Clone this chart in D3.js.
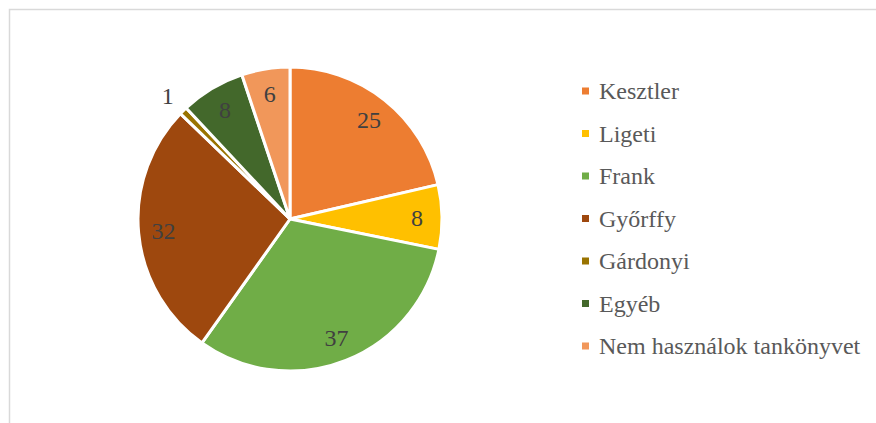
<!DOCTYPE html>
<html>
<head>
<meta charset="utf-8">
<script src="https://cdn.jsdelivr.net/npm/d3@7"></script>
<style>
  body { margin: 0; background: #fff; }
  svg { display: block; }
</style>
</head>
<body>
<div id="chart"></div>
<script>
// chart data
let categories = ["Kesztler", "Ligeti", "Frank", "Győrffy", "Gárdonyi", "Egyéb", "Nem használok tankönyvet"];
let values = [25, 8, 37, 32, 1, 8, 6];
let colors = ["#ED7D31", "#FFC000", "#70AD47", "#9E480E", "#997300", "#43682B", "#F1975A"];

function drawChart() {
  let svgWidth = 876;
  let svgHeight = 423;

  let svg = d3.select("#chart")
    .append("svg")
    .attr("width", svgWidth)
    .attr("height", svgHeight);

  // chart area border (cut off on the right and bottom)
  svg.append("rect")
    .attr("x", 9.5)
    .attr("y", 9.5)
    .attr("width", svgWidth + 10)
    .attr("height", svgHeight + 10)
    .attr("fill", "none")
    .attr("stroke", "#d9d9d9")
    .attr("stroke-width", 1.5);

  let cx = 290, cy = 219, radius = 152;

  let data = categories.map((c, i) => ({ name: c, value: values[i], color: colors[i] }));

  let pie = d3.pie()
    .value(d => d.value)
    .sort(null);

  let arc = d3.arc()
    .innerRadius(0)
    .outerRadius(radius);

  let labelArc = d3.arc()
    .innerRadius(127)
    .outerRadius(127);

  let outerLabelArc = d3.arc()
    .innerRadius(174)
    .outerRadius(174);

  let pieGroup = svg.append("g")
    .attr("transform", `translate(${cx}, ${cy})`);

  let arcs = pie(data);

  pieGroup.selectAll("path")
    .data(arcs)
    .enter()
    .append("path")
    .attr("d", arc)
    .attr("fill", d => d.data.color)
    .attr("stroke", "#fff")
    .attr("stroke-width", 3)
    .attr("stroke-linejoin", "round");

  pieGroup.selectAll("text")
    .data(arcs)
    .enter()
    .append("text")
    .attr("transform", d => {
      let c = d.data.value < 3 ? outerLabelArc.centroid(d) : labelArc.centroid(d);
      return `translate(${c[0]}, ${c[1]})`;
    })
    .attr("text-anchor", "middle")
    .attr("dy", "0.35em")
    .attr("font-family", "'Liberation Serif', 'Times New Roman', serif")
    .attr("font-size", "24px")
    .attr("fill", "#404040")
    .text(d => d.data.value);

  // legend
  let legend = svg.append("g")
    .attr("transform", "translate(582, 91)");

  let rows = legend.selectAll("g")
    .data(data)
    .enter()
    .append("g")
    .attr("transform", (d, i) => `translate(0, ${i * 42.5})`);

  rows.append("rect")
    .attr("x", 0)
    .attr("y", -3.5)
    .attr("width", 7)
    .attr("height", 7)
    .attr("fill", d => d.color);

  rows.append("text")
    .attr("x", 17)
    .attr("y", 8)
    .attr("font-family", "'Liberation Serif', 'Times New Roman', serif")
    .attr("font-size", "24px")
    .attr("fill", "#595959")
    .text(d => d.name);
}

drawChart();
</script>
</body>
</html>
